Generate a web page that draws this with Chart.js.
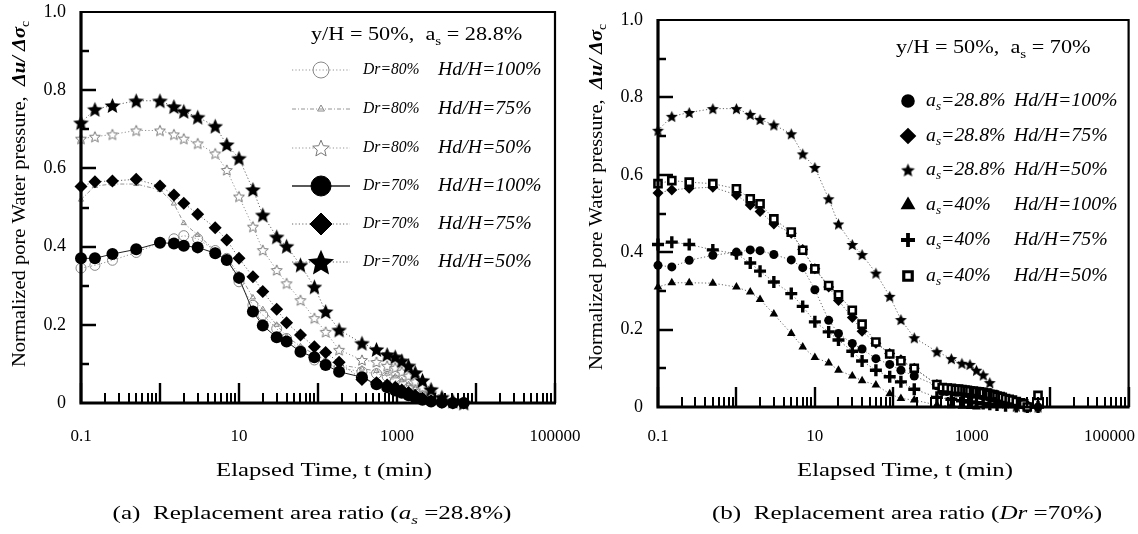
<!DOCTYPE html>
<html><head><meta charset="utf-8">
<script src="https://cdn.jsdelivr.net/npm/chart.js@4/dist/chart.umd.min.js"></script>
<style>
html,body{margin:0;padding:0;background:#fff;overflow:hidden}
#wrap{position:relative;width:1138px;height:534px;background:#fff}
canvas{position:absolute;top:0}
</style></head><body>
<div id="wrap">
<canvas id="cA" width="600" height="534" style="left:0"></canvas>
<canvas id="cB" width="569" height="534" style="left:569px"></canvas>
</div>
<script>
// ---------------- DATA ----------------
const TIME = [0.1,0.15,0.25,0.5,1,1.5,2,3,5,7,10,15,20,30,40,60,90,125,185,360,550,750,950,1150,1400,1700,2100,2700,3700,5100,7000];
const X_LABELS = [0.1, 10, 1000, 100000];
const Y_LABELS = [0, 0.2, 0.4, 0.6, 0.8, 1.0];

// (a) a_s = 28.8%
const dr80_hd100 = [0.345,0.352,0.365,0.385,0.410,0.420,0.428,0.420,0.390,0.370,0.310,0.250,0.225,0.190,0.165,0.135,0.110,0.100,0.090,0.080,0.075,0.068,0.058,0.048,0.038,0.028,0.018,0.009,0.003,0,0];
const dr80_hd75  = [0.520,0.555,0.560,0.560,0.545,0.510,0.460,0.430,0.390,0.370,0.330,0.270,0.240,0.200,0.170,0.145,0.125,0.110,0.098,0.088,0.082,0.075,0.068,0.058,0.048,0.038,0.027,0.016,0.007,0.002,0];
const dr80_hd50  = [0.676,0.681,0.687,0.697,0.697,0.687,0.676,0.664,0.638,0.596,0.528,0.451,0.391,0.340,0.306,0.263,0.217,0.182,0.136,0.110,0.105,0.095,0.090,0.080,0.070,0.055,0.040,0.025,0.012,0.005,0];
const dr70_hd100 = [0.370,0.370,0.381,0.393,0.410,0.408,0.402,0.398,0.383,0.366,0.320,0.234,0.198,0.168,0.157,0.131,0.117,0.097,0.080,0.066,0.048,0.040,0.032,0.026,0.020,0.014,0.008,0.004,0.001,0,0];
const dr70_hd75  = [0.554,0.566,0.568,0.572,0.555,0.532,0.511,0.483,0.448,0.417,0.370,0.323,0.285,0.240,0.205,0.174,0.144,0.129,0.104,0.060,0.052,0.046,0.040,0.033,0.027,0.020,0.012,0.006,0.002,0,0];
const dr70_hd50  = [0.717,0.751,0.761,0.773,0.773,0.758,0.746,0.731,0.708,0.661,0.626,0.546,0.481,0.425,0.401,0.353,0.297,0.234,0.187,0.153,0.137,0.124,0.118,0.108,0.095,0.078,0.058,0.035,0.015,0.005,0];

// (b) Dr = 70%
const as288_hd100 = [0.366,0.362,0.379,0.392,0.400,0.406,0.404,0.394,0.380,0.360,0.303,0.224,0.190,0.164,0.150,0.125,0.110,0.095,0.080,0.055,0.046,0.042,0.038,0.034,0.030,0.026,0.021,0.015,0.009,0.004,0];
const as288_hd75  = [0.553,0.561,0.565,0.568,0.548,0.522,0.505,0.473,0.449,0.407,0.357,0.310,0.275,0.231,0.196,0.165,0.138,0.122,0.100,0.058,0.048,0.042,0.037,0.032,0.027,0.022,0.016,0.010,0.005,0.001,0];
const as288_hd50  = [0.715,0.751,0.761,0.771,0.771,0.756,0.743,0.729,0.706,0.654,0.619,0.538,0.473,0.420,0.394,0.346,0.286,0.226,0.179,0.143,0.125,0.113,0.110,0.095,0.083,0.063,0.030,0.010,0.002,0,0];
const as40_hd100  = [0.310,0.321,0.321,0.320,0.310,0.297,0.278,0.240,0.190,0.155,0.128,0.114,0.095,0.080,0.068,0.057,0.034,0.022,0.018,0.005,0.003,0.002,0.001,0,null,null,null,null,null,null,null];
const as40_hd75   = [0.420,0.426,0.420,0.406,0.396,0.372,0.351,0.323,0.293,0.260,0.220,0.194,0.173,0.144,0.119,0.095,0.078,0.065,0.046,0.025,0.020,0.016,0.013,0.011,0.009,0.007,0.005,0.003,0.001,0,0];
const as40_hd50   = [0.577,0.585,0.581,0.577,0.564,0.538,0.525,0.486,0.452,0.405,0.357,0.314,0.290,0.250,0.214,0.168,0.137,0.119,0.100,0.058,0.048,0.045,0.042,0.040,0.037,0.033,0.028,0.022,0.014,0,0.030];
// dense logger readings in the tail of (b) (black band near 0.03–0.05)
const TAIL_TIME      = [420,480,620,680,820,880,1050,1250,1320,1550,1600,1850,1950,2300,2450,3000,3300,4200,4600];
const as40_hd50_tail = [0.050,0.049,0.046,0.046,0.044,0.043,0.041,0.039,0.038,0.036,0.035,0.032,0.031,0.027,0.025,0.020,0.018,0.011,0.008];
const as288_hd100_tail=[0.040,0.040,0.038,0.038,0.036,0.035,0.033,0.031,0.030,0.028,0.027,0.024,0.023,0.020,0.018,0.014,0.012,0.007,0.005];

// ---------------- HELPERS ----------------
const SERIF = '"Liberation Serif", "DejaVu Serif", serif';
function starCanvas(size, fill, stroke, lw, inner) {
  const c = document.createElement('canvas'); c.width = c.height = size;
  const g = c.getContext('2d');
  const R = size/2 - (lw||0) - 0.3, r = R*(inner||0.45), cx = size/2, cy = size/2 + R*0.1;
  g.beginPath();
  for (let k=0;k<10;k++){ const a=-Math.PI/2 + k*Math.PI/5; const rr = k%2 ? r : R; g.lineTo(cx+rr*Math.cos(a), cy+rr*Math.sin(a)); }
  g.closePath();
  if (fill){ g.fillStyle = fill; g.fill(); }
  if (stroke){ g.strokeStyle = stroke; g.lineWidth = lw; g.stroke(); }
  return c;
}
function fontFor(p, size){
  const s = p.sub ? Math.round(size*0.68) : size;
  return (p.i?'italic ':'') + (p.b?'bold ':'') + s + 'px ' + SERIF;
}
function drawRich(ctx, x, y, parts, size, align, sx){
  sx = sx || 1;
  ctx.textBaseline = 'middle'; ctx.textAlign = 'left';
  let w = 0; const ws = parts.map(p => { ctx.font = fontFor(p,size); const m = ctx.measureText(p.t).width; w += m; return m; });
  const start = align === 'center' ? x - w*sx/2 : x;
  ctx.save(); ctx.translate(start, y); ctx.scale(sx, 1);
  let cx = 0;
  parts.forEach((p,k) => { ctx.font = fontFor(p,size); ctx.fillText(p.t, cx, p.sub ? size*0.32 : 0); cx += ws[k]; });
  ctx.restore();
}
function series(vals, times){ times = times || TIME; return times.map((t,i)=>({x:t, y:vals[i]})); }
function merge(a, b){ return a.concat(b).filter(p => p.y !== null).sort((p,q)=>p.x-q.x); }

const DOT = [1.2, 2.2];
function ds(label, data, o){
  return Object.assign({
    label, data, showLine: true, borderColor: '#555', borderWidth: 0.9,
    borderDash: DOT, pointBorderColor: '#000', pointBackgroundColor: '#000',
    pointBorderWidth: 1, clip: false, tension: 0
  }, o);
}

// ---------------- DECOR PLUGIN ----------------
const decor = {
  id: 'decor',
  afterDatasetsDraw(chart){
    const ctx = chart.ctx, a = chart.chartArea, xs = chart.scales.x, ys = chart.scales.y;
    ctx.save(); ctx.strokeStyle = '#000'; ctx.setLineDash([]);
    for (let e=-1; e<=5; e++) for (let m=1; m<=9; m++){
      const v = m*Math.pow(10,e); if (v > 100000.5) break;
      const px = Math.round(xs.getPixelForValue(v));
      const len = m===1 ? 20 : 10;
      ctx.lineWidth = m===1 ? 2.4 : 2;
      ctx.beginPath(); ctx.moveTo(px, a.bottom); ctx.lineTo(px, a.bottom-len); ctx.stroke();
    }
    for (let k=1;k<=9;k++){
      const py = Math.round(ys.getPixelForValue(k/10));
      const len = k%2===0 ? 15 : 8;
      ctx.lineWidth = 2.5;
      ctx.beginPath(); ctx.moveTo(a.left, py); ctx.lineTo(a.left+len, py); ctx.stroke();
    }
    ctx.lineWidth = 2.2;
    ctx.beginPath(); ctx.moveTo(a.left, a.top); ctx.lineTo(a.right, a.top); ctx.lineTo(a.right, a.bottom); ctx.stroke();
    ctx.lineWidth = 3.2;
    ctx.beginPath(); ctx.moveTo(a.left, a.top-1); ctx.lineTo(a.left, a.bottom); ctx.lineTo(a.right+1, a.bottom); ctx.stroke();
    ctx.restore();
  },
  afterDraw(chart, args, o){
    const ctx = chart.ctx, a = chart.chartArea, xs = chart.scales.x;
    ctx.save(); ctx.fillStyle = '#000';
    // x tick labels, positioned by the scale
    ctx.font = '17px ' + SERIF; ctx.textBaseline = 'middle'; ctx.textAlign = 'left';
    X_LABELS.forEach(v => {
      const txt = v === 0.1 ? '0.1' : String(v);
      const w = ctx.measureText(txt).width;
      let x0 = xs.getPixelForValue(v) - w/2;
      x0 = Math.min(x0, chart.width - w - 3);
      ctx.fillText(txt, x0, a.bottom + o.xLabelDy);
    });
    // y title
    ctx.save(); ctx.translate(o.yTitleX, o.yTitleY); ctx.rotate(-Math.PI/2);
    drawRich(ctx, 0, 0, [{t:'Normalized pore Water pressure,  '},{t:'\u0394u/ \u0394\u03c3',i:1,b:1},{t:'c',sub:1}], 18, 'center', 1.14);
    ctx.restore();
    drawRich(ctx, o.xTitleX, o.xTitleY, [{t:'Elapsed Time, t (min)'}], 19, 'center', 1.3);
    drawRich(ctx, o.capX, o.capY, o.caption, 19, 'center', 1.32);
    drawRich(ctx, o.headX, o.headY, o.head, 19, 'left', 1.17);
    const dsets = chart.data.datasets;
    o.legend.forEach((L) => {
      const d = dsets[L.ds]; const y = L.y;
      if (o.legendLines){
        ctx.save(); ctx.strokeStyle = d.borderColor; ctx.lineWidth = L.lw || d.borderWidth; ctx.setLineDash(d.borderDash || []);
        ctx.beginPath(); ctx.moveTo(o.lineX1, y); ctx.lineTo(o.lineX2, y); ctx.stroke(); ctx.restore();
      }
      ctx.save();
      ctx.fillStyle = d.pointBackgroundColor; ctx.strokeStyle = d.pointBorderColor; ctx.setLineDash([]);
      ctx.lineWidth = L.bw != null ? L.bw : d.pointBorderWidth;
      Chart.helpers.drawPoint(ctx, {pointStyle: L.style || d.pointStyle, radius: L.r, borderWidth: ctx.lineWidth, rotation: 0}, o.markX, y);
      ctx.restore();
      drawRich(ctx, o.textX1, y, L.t1, o.t1Size, 'left', o.t1Sx);
      drawRich(ctx, o.textX2, y, L.t2, 18, 'left', 1.1);
    });
    ctx.restore();
  }
};

function baseOptions(pad, yWidth, xHeight, deco){
  return {
    responsive: false, animation: false, devicePixelRatio: 1,
    layout: { padding: pad },
    plugins: { legend: {display:false}, tooltip: {enabled:false}, decor: deco },
    scales: {
      x: {
        type: 'logarithmic', min: 0.1, max: 100000,
        grid: {display:false, drawTicks:false}, border: {display:false},
        afterBuildTicks: s => { s.ticks = X_LABELS.map(v => ({value: v})); },
        afterFit: s => { s.height = xHeight; s.paddingLeft = 0; s.paddingRight = 0; },
        ticks: { display: false }
      },
      y: {
        type: 'linear', min: 0, max: 1,
        grid: {display:false, drawTicks:false}, border: {display:false},
        afterBuildTicks: s => { s.ticks = Y_LABELS.map(v => ({value: v})); },
        afterFit: s => { s.width = yWidth; s.paddingTop = 0; s.paddingBottom = 0; },
        ticks: { padding: 15, color:'#000', font:{family: SERIF, size:18},
                 callback: v => (v === 0 ? '0' : v.toFixed(1)) }
      }
    }
  };
}

// ---------------- CHART (a) ----------------
const starBigA = starCanvas(17, '#000', null, 0, 0.46);
const starOpenA = starCanvas(14, '#fff', '#777', 1, 0.45);
const starLegBig = starCanvas(28, '#000', null, 0, 0.46);
const starLegOpen = starCanvas(20, '#fff', '#777', 1, 0.45);
const openGray = {pointBackgroundColor:'rgba(255,255,255,0)', pointBorderColor:'#888', pointBorderWidth:1, borderColor:'#888'};

const dataA = { datasets: [
  ds('Dr=70% Hd/H=50%',  series(dr70_hd50),  {pointStyle: starBigA}),
  ds('Dr=70% Hd/H=75%',  series(dr70_hd75),  {pointStyle:'rectRot', pointRadius:6.5, pointBorderWidth:0}),
  ds('Dr=70% Hd/H=100%', series(dr70_hd100), {pointStyle:'circle', pointRadius:6, pointBorderWidth:0, borderDash:[], borderColor:'#222', borderWidth:1}),
  ds('Dr=80% Hd/H=50%',  series(dr80_hd50),  Object.assign({}, openGray, {pointStyle: starOpenA})),
  ds('Dr=80% Hd/H=75%',  series(dr80_hd75),  Object.assign({}, openGray, {pointStyle:'triangle', pointRadius:3, borderDash:[4,2,1,2]})),
  ds('Dr=80% Hd/H=100%', series(dr80_hd100), Object.assign({}, openGray, {pointStyle:'circle', pointRadius:5}))
]};

const legA = [
  {ds:5, y:70,  r:8,  t1:[{t:'Dr=80%',i:1}], t2:[{t:'Hd/H=100%',i:1}]},
  {ds:4, y:109, r:4,  t1:[{t:'Dr=80%',i:1}], t2:[{t:'Hd/H=75%',i:1}]},
  {ds:3, y:148, r:9,  style: starLegOpen, t1:[{t:'Dr=80%',i:1}], t2:[{t:'Hd/H=50%',i:1}]},
  {ds:2, y:186, r:10, lw:1.4, t1:[{t:'Dr=70%',i:1}], t2:[{t:'Hd/H=100%',i:1}]},
  {ds:1, y:224, r:11, t1:[{t:'Dr=70%',i:1}], t2:[{t:'Hd/H=75%',i:1}]},
  {ds:0, y:262, r:12, style: starLegBig, t1:[{t:'Dr=70%',i:1}], t2:[{t:'Hd/H=50%',i:1}]}
];

new Chart(document.getElementById('cA'), {
  type: 'scatter', data: dataA,
  options: baseOptions({left:0, right:45, top:12, bottom:0}, 81, 131, {
    xLabelDy: 34, yTitleX: 20, yTitleY: 194, xTitleX: 324, xTitleY: 471, capX: 312, capY: 514,
    caption: [{t:'(a)  Replacement area ratio ('},{t:'a',i:1},{t:'s',i:1,sub:1},{t:' =28.8%)'}],
    headX: 311, headY: 35, head: [{t:'y/H = 50%,  a'},{t:'s',sub:1},{t:' = 28.8%'}],
    legendLines: true, lineX1: 292, lineX2: 350, markX: 321, textX1: 363, textX2: 438,
    t1Size: 17, t1Sx: 0.92, legend: legA
  }),
  plugins: [decor]
});

// ---------------- CHART (b) ----------------
const starB = starCanvas(13, '#000', null, 0, 0.46);
const dataB = { datasets: [
  ds('as=40% Hd/H=50%',    merge(series(as40_hd50), series(as40_hd50_tail, TAIL_TIME)), {pointStyle:'rect', pointRadius:5, pointBackgroundColor:'#fff', pointBorderWidth:2.6}),
  ds('as=40% Hd/H=75%',    series(as40_hd75),   {pointStyle:'cross', pointRadius:6, pointBorderWidth:3.4}),
  ds('as=40% Hd/H=100%',   merge(series(as40_hd100), []),  {pointStyle:'triangle', pointRadius:5, pointBorderWidth:0}),
  ds('as=28.8% Hd/H=50%',  series(as288_hd50),  {pointStyle: starB}),
  ds('as=28.8% Hd/H=75%',  series(as288_hd75),  {pointStyle:'rectRot', pointRadius:5.5, pointBorderWidth:0}),
  ds('as=28.8% Hd/H=100%', merge(series(as288_hd100), series(as288_hd100_tail, TAIL_TIME)), {pointStyle:'circle', pointRadius:4.5, pointBorderWidth:0})
]};
const legB = [
  {ds:5, y:101, r:5.5, t1:[{t:'a',i:1},{t:'s',i:1,sub:1},{t:'=28.8%',i:1}], t2:[{t:'Hd/H=100%',i:1}]},
  {ds:4, y:136, r:6.5, t1:[{t:'a',i:1},{t:'s',i:1,sub:1},{t:'=28.8%',i:1}], t2:[{t:'Hd/H=75%',i:1}]},
  {ds:3, y:170, r:6.5, style: starCanvas(15, '#000', null, 0, 0.46), t1:[{t:'a',i:1},{t:'s',i:1,sub:1},{t:'=28.8%',i:1}], t2:[{t:'Hd/H=50%',i:1}]},
  {ds:2, y:205, r:6,   t1:[{t:'a',i:1},{t:'s',i:1,sub:1},{t:'=40%',i:1}],   t2:[{t:'Hd/H=100%',i:1}]},
  {ds:1, y:240, r:7,   bw:3.8, t1:[{t:'a',i:1},{t:'s',i:1,sub:1},{t:'=40%',i:1}], t2:[{t:'Hd/H=75%',i:1}]},
  {ds:0, y:276, r:6,   bw:3.2, t1:[{t:'a',i:1},{t:'s',i:1,sub:1},{t:'=40%',i:1}], t2:[{t:'Hd/H=50%',i:1}]}
];

new Chart(document.getElementById('cB'), {
  type: 'scatter', data: dataB,
  options: baseOptions({left:0, right:6, top:20, bottom:0}, 89, 127, {
    xLabelDy: 30, yTitleX: 28, yTitleY: 197, xTitleX: 336, xTitleY: 471, capX: 338, capY: 514,
    caption: [{t:'(b)  Replacement area ratio ('},{t:'Dr',i:1},{t:' =70%)'}],
    headX: 327, headY: 48, head: [{t:'y/H = 50%,  a'},{t:'s',sub:1},{t:' = 70%'}],
    legendLines: false, markX: 339, textX1: 357, textX2: 445,
    t1Size: 18, t1Sx: 1.1, legend: legB
  }),
  plugins: [decor]
});
</script>
</body></html>
